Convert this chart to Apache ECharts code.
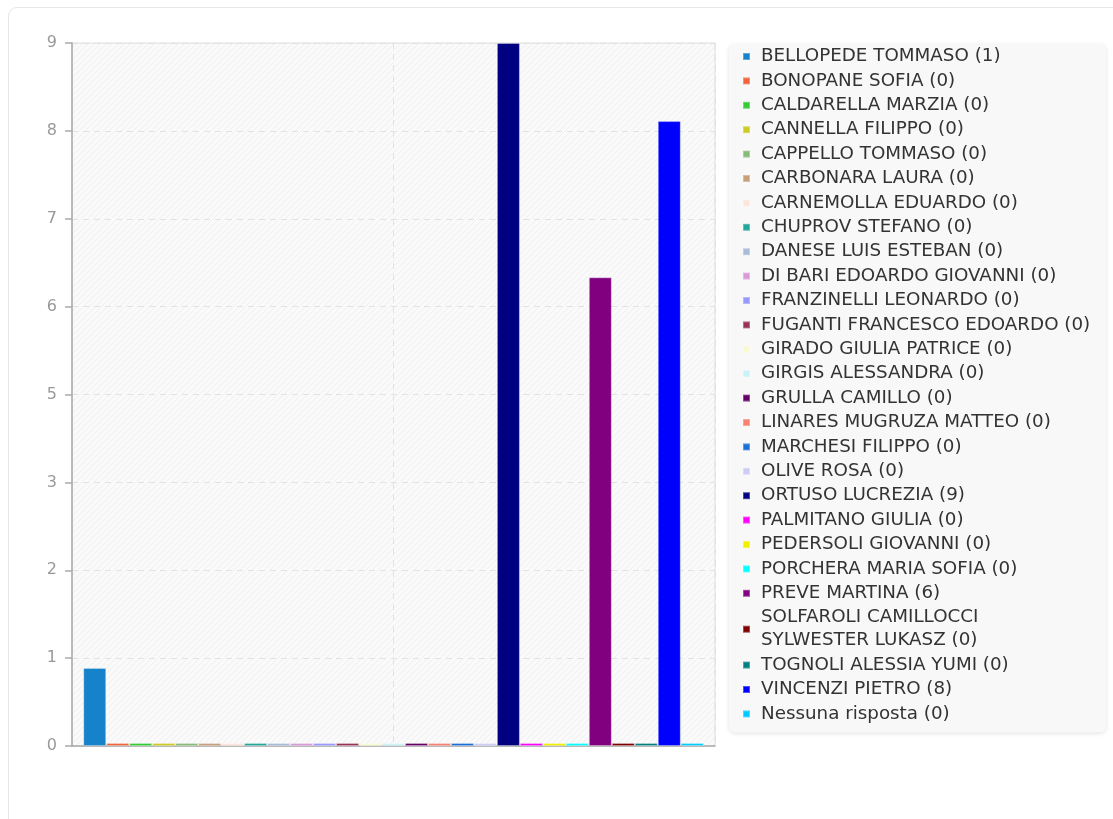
<!DOCTYPE html>
<html>
<head>
<meta charset="utf-8">
<script src="https://cdn.jsdelivr.net/npm/echarts@6/dist/echarts.min.js"></script>
<style>
html,body{margin:0;padding:0;background:#fff;overflow:hidden;}
#card{position:absolute;left:8px;top:7px;width:1130px;height:840px;border:1px solid #e6e6e6;border-radius:9px;box-sizing:border-box;}
#chart{position:absolute;left:0;top:0;width:1113px;height:819px;}
</style>
</head>
<body>
<div id="card"></div>
<div id="chart"></div>
<script>
const names = [
  'BELLOPEDE TOMMASO','BONOPANE SOFIA','CALDARELLA MARZIA','CANNELLA FILIPPO','CAPPELLO TOMMASO',
  'CARBONARA LAURA','CARNEMOLLA EDUARDO','CHUPROV STEFANO','DANESE LUIS ESTEBAN','DI BARI EDOARDO GIOVANNI',
  'FRANZINELLI LEONARDO','FUGANTI FRANCESCO EDOARDO','GIRADO GIULIA PATRICE','GIRGIS ALESSANDRA','GRULLA CAMILLO',
  'LINARES MUGRUZA MATTEO','MARCHESI FILIPPO','OLIVE ROSA','ORTUSO LUCREZIA','PALMITANO GIULIA',
  'PEDERSOLI GIOVANNI','PORCHERA MARIA SOFIA','PREVE MARTINA','SOLFAROLI CAMILLOCCI SYLWESTER LUKASZ','TOGNOLI ALESSIA YUMI',
  'VINCENZI PIETRO','Nessuna risposta'
];
const values = [1,0,0,0,0, 0,0,0,0,0, 0,0,0,0,0, 0,0,0,9,0, 0,0,6,0,0, 8,0];
const colors = [
  '#1582c9','#f0643c','#33cc33','#cccc22','#88bb77',
  '#c8a078','#fde4dc','#20a89a','#a8bcd8','#d89ad8',
  '#9999ff','#993355','#fafad2','#c8f4f8','#660066',
  '#fa8072','#1a6fd6','#ccccf5','#000080','#ff00ff',
  '#f0f000','#00ffff','#800080','#800000','#008080',
  '#0000ff','#00ccff'
];
// y tick labels (9 ticks over 0..9, labels rounded as in the original)
const yTickLabels = ['0','1','2','3','5','6','7','8','9'];
const yMax = 9;

// hatch pattern for plot background
const pc = document.createElement('canvas');
pc.width = 6; pc.height = 6;
const g = pc.getContext('2d');
g.fillStyle = '#fafafa'; g.fillRect(0,0,6,6);
g.strokeStyle = '#efefef'; g.lineWidth = 1;
g.beginPath();
g.moveTo(0,6); g.lineTo(6,0);
g.moveTo(-3,3); g.lineTo(3,-3);
g.moveTo(3,9); g.lineTo(9,3);
g.stroke();

const valueMap = {};
names.forEach((n,i)=>valueMap[n]=values[i]);
const yInterval = yMax / (yTickLabels.length - 1);

const chart = echarts.init(document.getElementById('chart'), null, {renderer:'canvas'});
chart.setOption({
  animation:false,
  color: colors,
  grid:{left:72,right:398,top:43,bottom:73,show:true,borderColor:'#dedede',borderWidth:1,
        backgroundColor:{image:pc,repeat:'repeat'}},
  legend:{
    orient:'vertical', right:7, top:44,
    data:names,
    icon:'rect', itemWidth:7, itemHeight:7, itemGap:1.4,
    padding:[1,12,7,13],
    backgroundColor:'#f8f8f8', borderRadius:6,
    shadowColor:'rgba(0,0,0,0.12)', shadowBlur:4, shadowOffsetY:1,
    formatter: n => n + ' (' + valueMap[n] + ')',
    textStyle:{fontFamily:'DejaVu Sans',fontSize:18.3,color:'#333',lineHeight:23,width:333,overflow:'break',padding:[0,0,0,6]}
  },
  xAxis:[
    {type:'category',data:[''],axisLine:{lineStyle:{color:'#aaa',width:1.5}},axisTick:{show:false},axisLabel:{show:false},splitLine:{show:false}},
    {type:'value',min:0,max:2,interval:1,position:'bottom',axisLine:{show:false},axisTick:{show:false},axisLabel:{show:false},
     splitLine:{show:true,lineStyle:{color:'#e2e2e2',type:[6,5],width:1}}}
  ],
  yAxis:{type:'value',min:0,max:yMax,interval:yInterval,
    axisLine:{show:true,lineStyle:{color:'#aaa',width:1.5}},
    axisTick:{show:true,length:7,lineStyle:{color:'#aaa',width:1.5}},
    axisLabel:{color:'#999',fontSize:16,fontFamily:'DejaVu Sans',margin:15,
      formatter: v => yTickLabels[Math.round(v / yInterval)] || ''},
    splitLine:{show:true,lineStyle:{color:'#e2e2e2',type:[6,5],width:1}}
  },
  series: names.map((n,i)=>({
    name:n, type:'bar', xAxisIndex:0, data:[values[i]],
    barGap:'0%', barCategoryGap:'3.5%', barMinHeight:3,
    itemStyle:{color:colors[i],borderColor:'rgba(255,255,255,0.3)',borderWidth:1}
  }))
});
</script>
</body>
</html>
